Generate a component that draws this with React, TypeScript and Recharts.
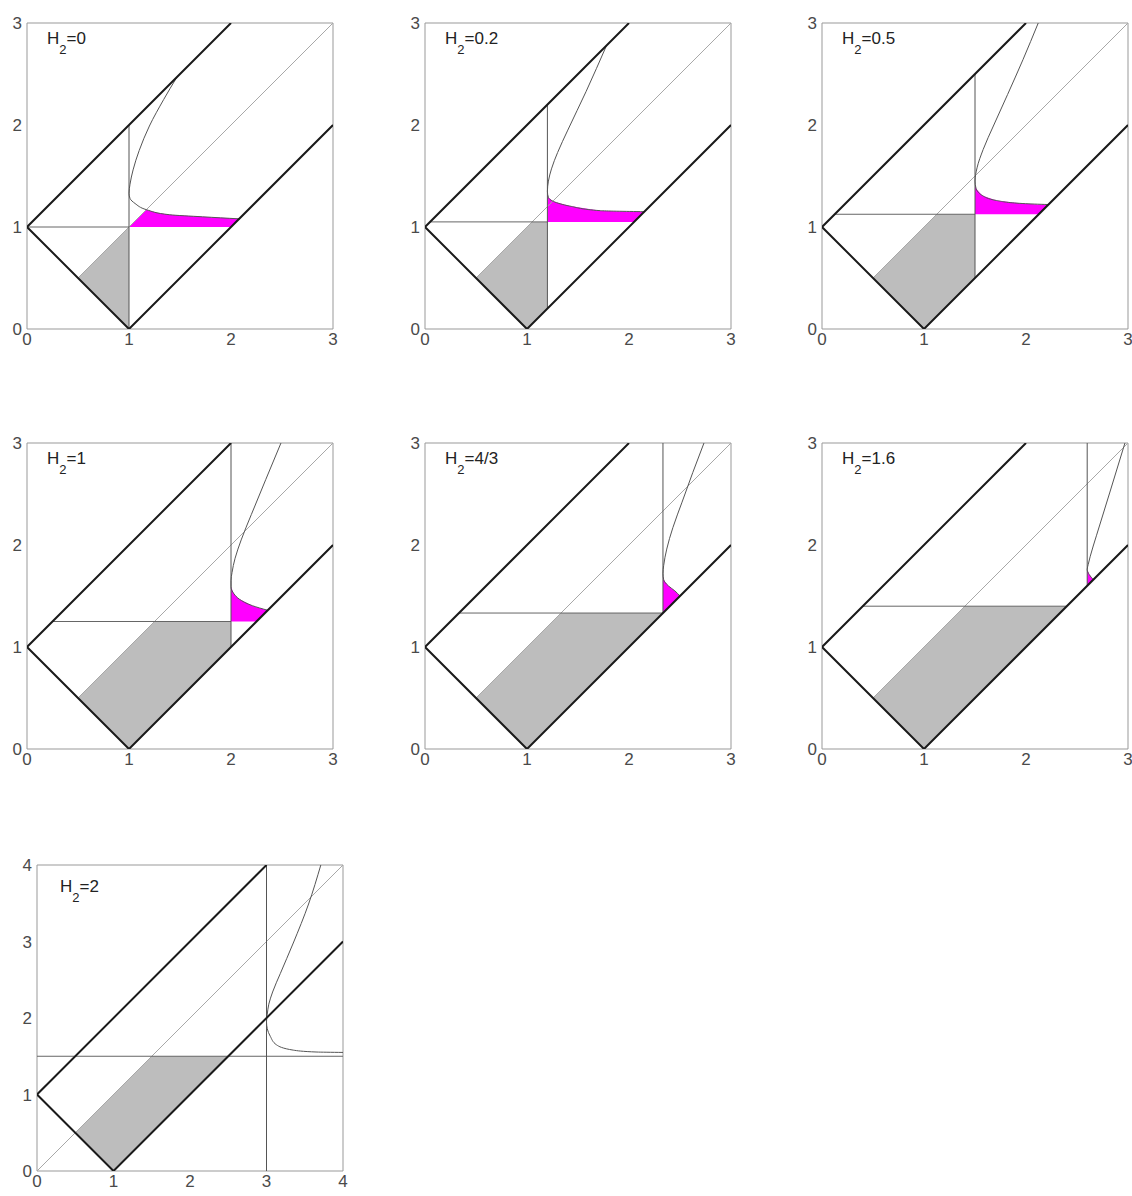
import React from "react";
import { ComposedChart, XAxis, YAxis, Area, Line, ReferenceArea } from "recharts";

// H2 value of each panel, left to right, top to bottom
const panelLabels = ["0", "0.2", "0.5", "1", "4/3", "1.6", "2"];
const axisMax = [3, 3, 3, 3, 3, 3, 4];

// top-left corner of each plot area on the page, and label offset inside it
const plotOrigins = [[27, 23], [425, 23], [822, 23], [27, 443], [425, 443], [822, 443], [37, 865]];
const labelOffsets = [[20, 9], [20, 9], [20, 9], [20, 9], [20, 9], [20, 9], [23, 15]];

// thick outline: upper edge -> left corner -> bottom corner -> lower edge
const outlineSmall = [[2, 3], [0, 1], [1, 0], [3, 2]];
const outlineLarge = [[3, 4], [0, 1], [1, 0], [4, 3]];
const diagonalSmall = [[0.5, 0.5], [3, 3]];
const diagonalLarge = [[0, 0], [4, 4]];

const horizontals = [
  [[0, 1], [1, 1]],
  [[0.05, 1.05], [1.2, 1.05]],
  [[0.125, 1.125], [1.5, 1.125]],
  [[0.25, 1.25], [2, 1.25]],
  [[0.333, 1.333], [2.333, 1.333]],
  [[0.4, 1.4], [2.4, 1.4]],
  [[0, 1.5], [4, 1.5]],
];

const verticals = [
  [[1, 0], [1, 2]],
  [[1.2, 0.2], [1.2, 2.2]],
  [[1.5, 0.5], [1.5, 2.5]],
  [[2, 1], [2, 3]],
  [[2.333, 1.333], [2.333, 3]],
  [[2.6, 1.6], [2.6, 3]],
  [[3, 0], [3, 4]],
];

// curved boundary, traced from the lower-right end to the upper end (y keeps rising)
const curves = [
  [[2.08, 1.08], [1.72, 1.1], [1.4, 1.12], [1.17, 1.17], [1.06, 1.23], [1.01, 1.28], [1.0, 1.33], [1.01, 1.42], [1.04, 1.56], [1.1, 1.75], [1.2, 1.99], [1.34, 2.25], [1.47, 2.47]],
  [[2.15, 1.15], [1.72, 1.16], [1.42, 1.205], [1.26, 1.25], [1.21, 1.29], [1.2, 1.35], [1.21, 1.45], [1.24, 1.57], [1.3, 1.73], [1.4, 1.95], [1.58, 2.33], [1.78, 2.78]],
  [[2.22, 1.22], [1.97, 1.23], [1.71, 1.26], [1.57, 1.31], [1.51, 1.38], [1.5, 1.45], [1.52, 1.58], [1.58, 1.76], [1.68, 1.99], [1.82, 2.3], [1.97, 2.64], [2.12, 3.0]],
  [[2.36, 1.36], [2.21, 1.405], [2.08, 1.47], [2.03, 1.52], [2.0, 1.59], [2.0, 1.65], [2.01, 1.73], [2.04, 1.87], [2.1, 2.05], [2.2, 2.3], [2.34, 2.64], [2.49, 3.0]],
  [[2.5, 1.5], [2.45, 1.55], [2.385, 1.6], [2.34, 1.66], [2.333, 1.72], [2.34, 1.8], [2.37, 1.96], [2.43, 2.17], [2.52, 2.42], [2.625, 2.71], [2.735, 3.0]],
  [[2.66, 1.66], [2.62, 1.71], [2.6, 1.76], [2.61, 1.81], [2.63, 1.89], [2.69, 2.09], [2.82, 2.51], [2.97, 3.0]],
  [[4.0, 1.55], [3.66, 1.555], [3.35, 1.58], [3.13, 1.65], [3.05, 1.76], [3.01, 1.86], [3.0, 1.95], [3.01, 2.05], [3.03, 2.18], [3.08, 2.34], [3.18, 2.58], [3.35, 2.98], [3.55, 3.49], [3.71, 4.0]],
];

// shaded regions as [x, low, high]
const grayBands = [
  [[0.5, 0.5, 0.5], [1, 0, 1]],
  [[0.5, 0.5, 0.5], [1, 0, 1], [1.05, 0.05, 1.05], [1.2, 0.2, 1.05]],
  [[0.5, 0.5, 0.5], [1, 0, 1], [1.125, 0.125, 1.125], [1.5, 0.5, 1.125]],
  [[0.5, 0.5, 0.5], [1, 0, 1], [1.25, 0.25, 1.25], [2, 1, 1.25]],
  [[0.5, 0.5, 0.5], [1, 0, 1], [1.333, 0.333, 1.333], [2.333, 1.333, 1.333]],
  [[0.5, 0.5, 0.5], [1, 0, 1], [1.4, 0.4, 1.4], [2.4, 1.4, 1.4]],
  [[0.5, 0.5, 0.5], [1, 0, 1], [1.5, 0.5, 1.5], [2.5, 1.5, 1.5]],
];

const magentaBands = [
  [[1, 1, 1], [1.17, 1, 1.17], [1.28, 1, 1.14], [1.4, 1, 1.12], [1.72, 1, 1.1], [2.0, 1, 1.085], [2.08, 1.08, 1.08]],
  [[1.2, 1.05, 1.32], [1.21, 1.05, 1.29], [1.26, 1.05, 1.25], [1.42, 1.05, 1.205], [1.72, 1.05, 1.16], [2.05, 1.05, 1.15], [2.15, 1.15, 1.15]],
  [[1.5, 1.125, 1.42], [1.51, 1.125, 1.38], [1.57, 1.125, 1.31], [1.71, 1.125, 1.26], [1.97, 1.125, 1.23], [2.125, 1.125, 1.22], [2.22, 1.22, 1.22]],
  [[2.0, 1.25, 1.59], [2.03, 1.25, 1.52], [2.08, 1.25, 1.47], [2.21, 1.25, 1.405], [2.25, 1.25, 1.39], [2.36, 1.36, 1.36]],
  [[2.333, 1.333, 1.7], [2.34, 1.34, 1.66], [2.385, 1.385, 1.6], [2.45, 1.45, 1.55], [2.5, 1.5, 1.5]],
  [[2.6, 1.6, 1.76], [2.62, 1.62, 1.71], [2.66, 1.66, 1.66]],
  [],
];

const toPts = (arr: number[][]) => arr.map(([x, y]) => ({ x, y }));
const toBand = (arr: number[][]) => arr.map(([x, lo, hi]) => ({ x, band: [lo, hi] }));

const FONT = "'Liberation Sans', Arial, sans-serif";
const tickStyle = { fill: "#4a4a4a", fontSize: 17, fontFamily: FONT };
const PLOT = 306;

function Panel({ i }: { i: number }) {
  const max = axisMax[i];
  const ticks = Array.from({ length: max + 1 }, (_, k) => k);
  const [px, py] = plotOrigins[i];
  const [lx, ly] = labelOffsets[i];
  const right = i === 2 || i === 5 ? 4 : 8;
  const outline = max === 4 ? outlineLarge : outlineSmall;
  const diagonal = max === 4 ? diagonalLarge : diagonalSmall;

  return (
    <div style={{ position: "absolute", left: px - 27, top: py - 12 }}>
      <ComposedChart
        width={27 + PLOT + right}
        height={12 + PLOT + 26}
        margin={{ top: 12, right, bottom: 4, left: 3 }}
      >
        <XAxis
          type="number"
          dataKey="x"
          domain={[0, max]}
          ticks={ticks}
          interval={0}
          allowDataOverflow
          axisLine={false}
          tickLine={false}
          tickSize={2}
          tickMargin={2}
          height={22}
          tick={tickStyle}
        />
        <YAxis
          type="number"
          dataKey="y"
          domain={[0, max]}
          ticks={ticks}
          interval={0}
          allowDataOverflow
          axisLine={false}
          tickLine={false}
          tickSize={2}
          tickMargin={3}
          width={24}
          tick={tickStyle}
        />
        <Area
          data={toBand(grayBands[i])}
          dataKey="band"
          type="linear"
          fill="#bdbdbd"
          fillOpacity={1}
          stroke="none"
          isAnimationActive={false}
        />
        {magentaBands[i].length > 0 && (
          <Area
            data={toBand(magentaBands[i])}
            dataKey="band"
            type="linear"
            fill="#ff00ff"
            fillOpacity={1}
            stroke="none"
            isAnimationActive={false}
          />
        )}
        <Line data={toPts(diagonal)} dataKey="y" type="linear" stroke="#a8a8a8" strokeWidth={1} dot={false} activeDot={false} isAnimationActive={false} />
        <Line data={toPts(horizontals[i])} dataKey="y" type="linear" stroke="#666" strokeWidth={1} dot={false} activeDot={false} isAnimationActive={false} />
        <Line data={toPts(verticals[i])} dataKey="y" type="linear" stroke="#555" strokeWidth={1} dot={false} activeDot={false} isAnimationActive={false} />
        <Line data={toPts(curves[i])} dataKey="y" type="monotoneY" stroke="#555" strokeWidth={1} dot={false} activeDot={false} isAnimationActive={false} />
        <Line data={toPts(outline)} dataKey="y" type="linear" stroke="#1a1a1a" strokeWidth={2} dot={false} activeDot={false} isAnimationActive={false} />
        <ReferenceArea x1={0} x2={max} y1={0} y2={max} fill="none" stroke="#999" strokeWidth={1} ifOverflow="visible" />
      </ComposedChart>
      <div
        style={{
          position: "absolute",
          left: 27 + lx,
          top: 12 + ly - 2,
          fontFamily: FONT,
          fontSize: 17,
          lineHeight: "17px",
          color: "#222",
          whiteSpace: "nowrap",
        }}
      >
        H<span style={{ fontSize: 13, position: "relative", top: 10 }}>2</span>={panelLabels[i]}
      </div>
    </div>
  );
}

export default function App() {
  return (
    <div
      style={{
        position: "absolute",
        left: 0,
        top: 0,
        width: 1132,
        height: 1196,
        overflow: "hidden",
        background: "#fff",
      }}
    >
      {panelLabels.map((_, i) => (
        <Panel key={i} i={i} />
      ))}
    </div>
  );
}
